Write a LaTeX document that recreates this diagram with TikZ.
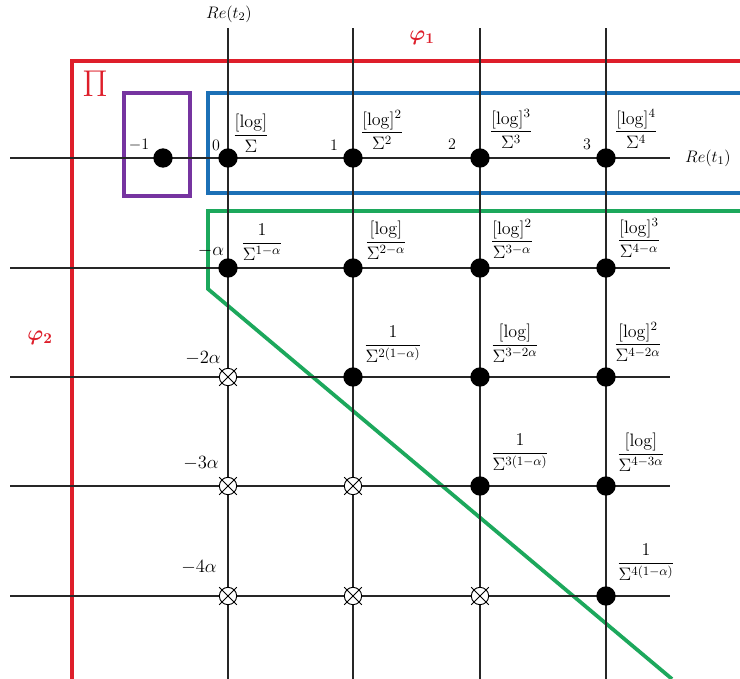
\RequirePackage{fix-cm}
\documentclass[tikz,border=0pt]{standalone}
\usepackage{amsmath,amssymb,bm}
\usetikzlibrary{positioning, shapes.misc}

\definecolor{phired}{RGB}{222,30,42}
\definecolor{regblue}{RGB}{28,112,182}
\definecolor{reggreen}{RGB}{28,168,92}
\definecolor{regpurple}{RGB}{118,52,160}

\begin{document}
\begin{tikzpicture}[
    x=0.75pt, y=-0.75pt,
    gridline/.style={line width=0.9pt, black!85},
    region/.style={line width=2.8pt},
    dot/.style={circle, fill=black, inner sep=0pt, minimum size=14.5pt},
    pole/.style={circle, draw, fill=white, line width=0.7pt, inner sep=0pt, minimum size=13pt,
        label={[cross out, draw, line width=0.7pt, inner sep=0pt, minimum size=12.5pt]center:}},
    fraclabel/.style={font=\fontsize{13.5}{15}\selectfont, inner sep=0pt},
    ticklabel/.style={font=\fontsize{12}{14}\selectfont, inner sep=0pt},
    alphalabel/.style={font=\fontsize{14}{16}\selectfont, inner sep=0pt},
    axislabel/.style={font=\fontsize{12.5}{14}\selectfont, inner sep=0pt}
]
\useasboundingbox[fill=white] (0,0) rectangle (740,679);

% regions
\draw[region, phired] (72,679) |- (742,61);
\draw[region, regblue] (742,93) -| (208,193) -- (742,193);
\draw[region, reggreen] (742,211) -| (208,289) -- (672,679);
\draw[region, regpurple] (124,93) rectangle (190,196);

\node[phired, font=\fontsize{28}{30}\selectfont, inner sep=0pt] (pi) at (95,84) {$\Pi$};
\node[phired, font=\fontsize{16}{18}\selectfont, inner sep=0pt] (phi1) at (422,38) {$\bm{\varphi_1}$};
\node[phired, font=\fontsize{16}{18}\selectfont, inner sep=0pt] (phi2) at (40,338) {$\bm{\varphi_2}$};

% grid
\foreach \y in {158,268,377,486,596}
    \draw[gridline] (10,\y) -- (670,\y);
\foreach \x in {228,353,480,606}
    \draw[gridline] (\x,28) -- (\x,679);

\node[axislabel] (ret2) at (229,14) {$Re(t_2)$};
\node[axislabel] (ret1) at (708,158) {$Re(t_1)$};

% row 0
\node[dot] (d0m) at (163,158) {};
\node[dot] (d00) at (228,158) {};
\node[dot] (d01) at (353,158) {};
\node[dot] (d02) at (480,158) {};
\node[dot] (d03) at (606,158) {};
\node[ticklabel] (tm1) at (139,145) {$-1$};
\node[ticklabel] (t0) at (216,145) {$0$};
\node[ticklabel] (t1) at (334,145) {$1$};
\node[ticklabel] (t2) at (452,144) {$2$};
\node[ticklabel] (t3) at (587,144) {$3$};
\node[fraclabel] (f00) at (251,133) {$\dfrac{[\mathrm{log}]}{\Sigma}$};
\node[fraclabel] (f01) at (382,130) {$\dfrac{[\mathrm{log}]^2}{\Sigma^2}$};
\node[fraclabel] (f02) at (511,129) {$\dfrac{[\mathrm{log}]^3}{\Sigma^3}$};
\node[fraclabel] (f03) at (636,129) {$\dfrac{[\mathrm{log}]^4}{\Sigma^4}$};

% row 1
\node[dot] (d10) at (228,268) {};
\node[dot] (d11) at (353,268) {};
\node[dot] (d12) at (480,268) {};
\node[dot] (d13) at (606,268) {};
\node[alphalabel] (a1) at (211,251) {$-\alpha$};
\node[fraclabel] (f10) at (262,242) {$\dfrac{1}{\Sigma^{1-\alpha}}$};
\node[fraclabel] (f11) at (386,240) {$\dfrac{[\mathrm{log}]}{\Sigma^{2-\alpha}}$};
\node[fraclabel] (f12) at (512,239) {$\dfrac{[\mathrm{log}]^2}{\Sigma^{3-\alpha}}$};
\node[fraclabel] (f13) at (639,238) {$\dfrac{[\mathrm{log}]^3}{\Sigma^{4-\alpha}}$};

% row 2
\node[pole] (p20) at (228,377) {};
\node[dot] (d21) at (353,377) {};
\node[dot] (d22) at (480,377) {};
\node[dot] (d23) at (606,377) {};
\node[alphalabel] (a2) at (203,358) {$-2\alpha$};
\node[fraclabel] (f21) at (393,344) {$\dfrac{1}{\Sigma^{2(1-\alpha)}}$};
\node[fraclabel] (f22) at (515,343) {$\dfrac{[\mathrm{log}]}{\Sigma^{3-2\alpha}}$};
\node[fraclabel] (f23) at (638,342) {$\dfrac{[\mathrm{log}]^2}{\Sigma^{4-2\alpha}}$};

% row 3
\node[pole] (p30) at (228,486) {};
\node[pole] (p31) at (353,486) {};
\node[dot] (d32) at (480,486) {};
\node[dot] (d33) at (606,486) {};
\node[alphalabel] (a3) at (201,463) {$-3\alpha$};
\node[fraclabel] (f32) at (520,452) {$\dfrac{1}{\Sigma^{3(1-\alpha)}}$};
\node[fraclabel] (f33) at (641,452) {$\dfrac{[\mathrm{log}]}{\Sigma^{4-3\alpha}}$};

% row 4
\node[pole] (p40) at (228,596) {};
\node[pole] (p41) at (353,596) {};
\node[pole] (p42) at (480,596) {};
\node[dot] (d43) at (606,596) {};
\node[alphalabel] (a4) at (199,567) {$-4\alpha$};
\node[fraclabel] (f43) at (646,562) {$\dfrac{1}{\Sigma^{4(1-\alpha)}}$};

\end{tikzpicture}
\end{document}
